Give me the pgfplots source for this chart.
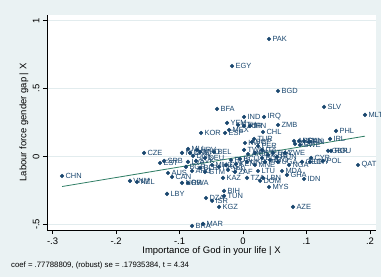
\documentclass[border=0pt]{standalone}
\usepackage{fontspec}
\setmainfont{Liberation Sans}
\usepackage{pgfplots}
\pgfplotsset{compat=1.18}
\usepackage{pgfplotstable}
\definecolor{bg}{RGB}{234,242,243}
\definecolor{navy}{RGB}{26,71,111}
\definecolor{fitc}{RGB}{46,125,100}
\definecolor{gridc}{RGB}{226,236,238}

\pgfplotstableread{
x y lab
0.0409 0.865 PAK
-0.0173 0.666 EGY
0.0551 0.482 BGD
-0.0409 0.350 BFA
0.1276 0.365 SLV
0.1921 0.306 MLT
0.0016 0.291 IND
0.0331 0.291 IRQ
-0.0252 0.247 YEM
-0.0079 0.232 ETH
0.0016 0.225 JOR
0.0110 0.225 IRN
-0.0220 0.195 MEX
0.0551 0.232 ZMB
-0.0661 0.173 KOR
-0.0283 0.173 ESP
0.0315 0.180 CHL
0.1465 0.188 PHL
0.1370 0.129 IRL
0.0173 0.129 TUR
0.0142 0.107 SGP
0.0031 0.099 KWT
0.0236 0.077 PER
0.0803 0.114 ARM
0.0882 0.114 USA
0.0961 0.114 SVN
0.1039 0.107 FIN
0.0819 0.092 AUT
0.0898 0.085 SWE
0.1339 0.041 GBR
0.1386 0.041 ROU
0.1071 -0.011 CYP
0.1260 -0.033 POL
0.0929 -0.040 GEO
0.1055 -0.040 URY
0.0724 -0.063 NGA
0.1811 -0.063 QAT
0.0661 0.026 ZWE
0.0472 0.026 THA
0.0535 -0.004 HUN
0.0236 -0.107 LTU
0.0614 -0.107 MDA
0.0693 -0.136 GHA
0.0961 -0.166 IDN
0.0409 -0.225 MYS
0.0787 -0.372 AZE
-0.0378 -0.372 KGZ
-0.0488 -0.327 ISR
-0.0583 -0.306 DZA
-0.0299 -0.254 BIH
-0.0299 -0.291 TUN
-0.0803 -0.512 BRA
-0.0630 -0.497 MAR
-0.1197 -0.276 LBY
-0.2850 -0.144 CHN
-0.1780 -0.180 VNM
-0.1669 -0.188 NZL
-0.1559 0.026 CZE
-0.1307 -0.048 EST
-0.1244 -0.033 SRB
-0.1181 -0.122 AUS
-0.1118 -0.151 CAN
-0.0961 -0.195 NOR
-0.0866 -0.195 RWA
-0.0866 0.055 MLI
-0.0961 0.026 NLD
-0.0835 0.026 CHE
-0.0787 0.004 DNK
-0.0724 0.048 HRV
-0.0677 0.033 MKD
-0.0457 0.033 BEL
-0.0598 -0.011 DEU
-0.0740 -0.033 SVK
-0.0866 -0.040 LVA
-0.0677 -0.085 BLR
-0.0598 -0.114 GTM
-0.0898 -0.077 BGR
-0.0803 -0.107 ARG
0.0063 -0.040 UKR
-0.0189 -0.026 RUS
-0.0110 -0.055 KEN
-0.0047 -0.018 ECU
-0.0268 -0.063 COL
-0.0378 -0.077 HKG
-0.0488 -0.063 MNG
-0.0315 -0.158 KAZ
-0.0236 -0.099 JPN
-0.0126 -0.114 ZAF
0.0063 -0.158 TZA
0.0315 -0.158 LBN
0.0268 -0.180 DOM
0.0189 0.026 PRT
0.0299 0.048 ITA
0.0394 0.011 GRC
0.0299 -0.011 BOL
0.0425 -0.026 TTO
0.0551 -0.040 UGA
0.0189 -0.063 MNE
0.0346 -0.040 PRI
0.0016 0.048 TWN
0.0079 0.018 AND
}\pts

\begin{document}
\begin{tikzpicture}
\path[use as bounding box, fill=bg] (-47bp,-47bp) rectangle (334bp,230bp);
\begin{axis}[
 scale only axis, width=329bp, height=215bp,
 xmin=-0.3087, xmax=0.2094, ymin=-0.542, ymax=1.042,
 axis background/.style={fill=white},
 axis x line*=bottom, axis y line*=left,
 axis line style={black, line width=0.6bp, -},
 xtick={-0.3,-0.2,-0.1,0,0.1,0.2},
 xticklabels={-.3,-.2,-.1,0,.1,.2},
 ytick={-0.5,0,0.5,1},
 yticklabels={-.5,0,.5,1},
 tick align=outside, major tick length=4bp,
 tick style={black, line width=0.6bp},
 ymajorgrids, grid style={gridc, line width=0.8bp},
 /pgf/number format/assume math mode=true,
 ticklabel style={font=\fontsize{9.5}{10}\selectfont},
 yticklabel style={rotate=90, anchor=south},
 xlabel={Importance of God in your life | X},
 ylabel={Labour force gender gap | X},
 label style={font=\fontsize{9.5}{10}\selectfont},
 xlabel style={at={(axis description cs:0.5,-0.1)}, anchor=center},
 ylabel style={at={(axis description cs:-0.07,0.5)}, anchor=center},
 clip=false,
]
\addplot[only marks, mark=*, mark size=1.9bp, mark options={fill=navy, draw=navy},
  nodes near coords, point meta=explicit symbolic,
  every node near coord/.append style={anchor=west, font=\fontsize{7.5}{8}\selectfont, text=navy, inner sep=0pt, xshift=3.3bp}]
  table[x=x, y=y, meta=lab]{\pts};
\addplot[fitc, line width=0.8bp, no marks] coordinates {(-0.285,-0.2217) (0.192,0.1494)};
\end{axis}
\node[anchor=west, font=\fontsize{7.8}{9}\selectfont, inner sep=0pt] at (-36bp,-35bp) {coef = .77788809, (robust) se = .17935384, t = 4.34};
\end{tikzpicture}
\end{document}
